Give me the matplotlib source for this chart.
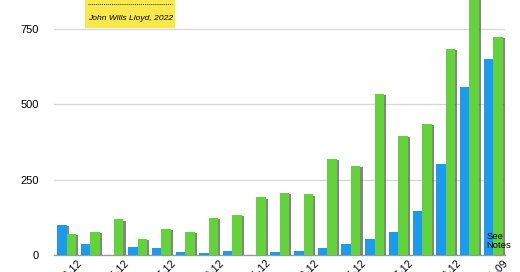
import numpy as np
import matplotlib.pyplot as plt
import matplotlib.patheffects as pe
from matplotlib.patches import Rectangle
from matplotlib.lines import Line2D

plt.rcParams['font.family'] = ['Liberation Sans', 'DejaVu Sans']

# values (one pair per period)
periods = ['2003-12', '2004-12', '2005-12', '2006-12', '2007-12', '2008-12', '2009-12',
           '2010-12', '2011-12', '2012-12', '2013-12', '2014-12', '2015-12', '2016-12',
           '2017-12', '2018-12', '2019-12', '2020-12', '2021-09']
blue_vals = [99, 35, 0, 27, 22, 10, 5, 13, 0, 11, 13, 24, 35, 52, 75, 146, 301, 557, 650]
green_vals = [71, 76, 118, 54, 87, 76, 124, 132, 191, 205, 201, 318, 295, 535, 394, 434, 683, 900, 722]
yticks = [0, 250, 500, 750]

W, H = 520, 272
fig = plt.figure(figsize=(W / 100, H / 100), dpi=100)
ax = fig.add_axes([54 / W, 17 / H, (505 - 54) / W, 1 - 17 / H])

x = np.arange(len(periods))
bw = 0.4
shadow = [pe.SimplePatchShadow(offset=(1.5, -0.8), shadow_rgbFace='#444444', alpha=0.65), pe.Normal()]
ax.bar(x - bw / 2, blue_vals, bw, color='#1a9bf0', path_effects=shadow, zorder=3)
ax.bar(x + bw / 2, green_vals, bw, color='#62d43a', path_effects=shadow, zorder=3)

ax.set_ylim(0, 846)
ax.set_xlim(-0.53, 18.5)
ax.set_yticks(yticks)
ax.set_yticklabels([str(v) for v in yticks], fontsize=8)
ax.yaxis.grid(True, color='#d6d6d6', linewidth=0.9, zorder=0)
ax.set_axisbelow(True)
ax.tick_params(axis='y', length=0, pad=11)
ax.tick_params(axis='x', length=0, pad=2)
ax.set_xticks(x[::2])
ax.set_xticklabels(periods[::2], rotation=45, ha='center', fontsize=7.5)
for s in ['top', 'right', 'left']:
    ax.spines[s].set_visible(False)
ax.spines['bottom'].set_color('#9a9a9a')
ax.spines['bottom'].set_linewidth(1.0)

ax.text(17.72, 16, 'See\nNotes', fontsize=6.8, ha='left', va='bottom', linespacing=1.0, zorder=5)

# yellow credit box at the top
fig.add_artist(Rectangle((85 / W, 1 - 28 / H), 90 / W, 28 / H, transform=fig.transFigure,
                         facecolor='#f8e84a', edgecolor='none'))
fig.add_artist(Line2D([88 / W, 172 / W], [1 - 4 / H, 1 - 4 / H], transform=fig.transFigure,
                      color='#333333', linestyle=(0, (1, 1)), linewidth=0.7))
fig.text(88 / W, 1 - 19 / H, 'John Wills Lloyd, 2022', fontsize=6.1, style='italic',
         va='center', ha='left')

fig.savefig('out.png', dpi=100)
